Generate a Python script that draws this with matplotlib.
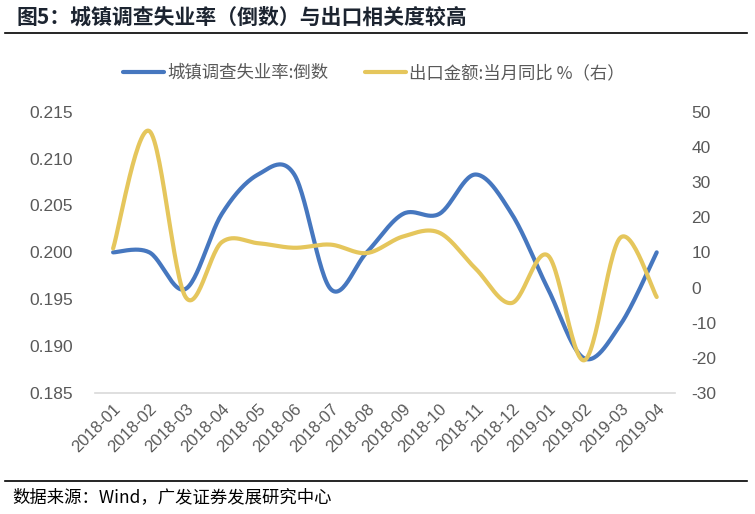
import numpy as np
import matplotlib
matplotlib.use("Agg")
import matplotlib.pyplot as plt

plt.rcParams['font.family'] = ['Liberation Sans', 'Noto Sans CJK SC', 'DejaVu Sans']

months = ["2018-01", "2018-02", "2018-03", "2018-04", "2018-05", "2018-06",
          "2018-07", "2018-08", "2018-09", "2018-10", "2018-11", "2018-12",
          "2019-01", "2019-02", "2019-03", "2019-04"]
unemp_inv = [0.2000, 0.2000, 0.1961, 0.2041, 0.2083, 0.2083, 0.1961, 0.2000,
             0.2041, 0.2041, 0.2083, 0.2041, 0.1961, 0.1887, 0.1923, 0.2000]
export_yoy = [11.1, 44.5, -2.7, 12.9, 12.6, 11.3, 12.2, 9.8,
              14.5, 15.6, 5.4, -4.4, 9.1, -20.7, 14.2, -2.7]

left_ticks = [0.185, 0.190, 0.195, 0.200, 0.205, 0.210, 0.215]
right_ticks = [-30, -20, -10, 0, 10, 20, 30, 40, 50]

BLUE = "#4677BF"
YELLOW = "#E5C65C"
GREY = "#595959"
CJK = ['Noto Sans CJK SC', 'DejaVu Sans']


def smooth(y, n=30):
    # Excel-like smoothed line: cubic Bezier with Catmull-Rom control points
    y = np.asarray(y, float)
    x = np.arange(len(y), dtype=float)
    xs, ys = [], []
    t = np.linspace(0, 1, n)
    for i in range(len(y) - 1):
        x0, y0 = (x[i - 1], y[i - 1]) if i > 0 else (x[i], y[i])
        x3, y3 = (x[i + 2], y[i + 2]) if i + 2 < len(y) else (x[i + 1], y[i + 1])
        p0 = np.array([x[i], y[i]])
        p3 = np.array([x[i + 1], y[i + 1]])
        p1 = p0 + (p3 - np.array([x0, y0])) / 6
        p2 = p3 - (np.array([x3, y3]) - p0) / 6
        b = ((1 - t) ** 3)[:, None] * p0 + (3 * (1 - t) ** 2 * t)[:, None] * p1 \
            + (3 * (1 - t) * t ** 2)[:, None] * p2 + (t ** 3)[:, None] * p3
        xs.append(b[:, 0]); ys.append(b[:, 1])
    return np.concatenate(xs), np.concatenate(ys)


fig = plt.figure(figsize=(7.55, 5.14), dpi=100)
ax = fig.add_axes([0.1258, 0.2354, 0.768, 0.5473])
ax2 = ax.twinx()

bx, by = smooth(unemp_inv)
l1, = ax.plot(bx, by, color=BLUE, lw=3, solid_capstyle='round', label="城镇调查失业率:倒数")
yx, yy = smooth(export_yoy)
l2, = ax2.plot(yx, yy, color=YELLOW, lw=3, solid_capstyle='round', label="出口金额:当月同比 %（右）")

ax.set_xlim(-0.5, len(months) - 0.5)
ax.set_ylim(0.185, 0.215)
ax2.set_ylim(-30, 50)
ax.set_yticks(left_ticks)
ax.set_yticklabels([f"{v:.3f}" for v in left_ticks])
ax2.set_yticks(right_ticks)
ax2.set_yticklabels([str(v) for v in right_ticks])
ax.set_xticks(range(len(months)))
ax.set_xticklabels(months, rotation=45, ha='right', va='top', rotation_mode='anchor')

for a in (ax, ax2):
    for s in a.spines.values():
        s.set_visible(False)
    a.tick_params(length=0, colors=GREY, labelsize=12.5)
ax.tick_params(axis='x', labelsize=12)
ax.spines['bottom'].set_visible(True)
ax.spines['bottom'].set_color("#D9D9D9")
ax.spines['bottom'].set_linewidth(1.2)
ax.tick_params(axis='y', pad=16)
ax.tick_params(axis='x', pad=6)
ax2.tick_params(axis='y', pad=12)

fig.legend(handles=[l1, l2], loc='center', bbox_to_anchor=(0.495, 0.858), ncol=2,
           frameon=False, handlelength=2.4, handletextpad=0.17, columnspacing=2.1,
           prop={'family': CJK, 'size': 12.5}, labelcolor=GREY)

fig.text(0.022, 0.966, "图5：城镇调查失业率（倒数）与出口相关度较高", fontsize=15,
         fontweight='bold', family=CJK, ha='left', va='center', color="#1c2430")
fig.add_artist(plt.Line2D([0.007, 0.99], [0.936, 0.936], color='black', lw=1.2))
fig.add_artist(plt.Line2D([0.007, 0.99], [0.064, 0.064], color='black', lw=1.2))
fig.text(0.016, 0.033, "数据来源：Wind，广发证券发展研究中心", fontsize=12.5,
         family=CJK, ha='left', va='center', color="black")

fig.savefig("out.png", dpi=100)
